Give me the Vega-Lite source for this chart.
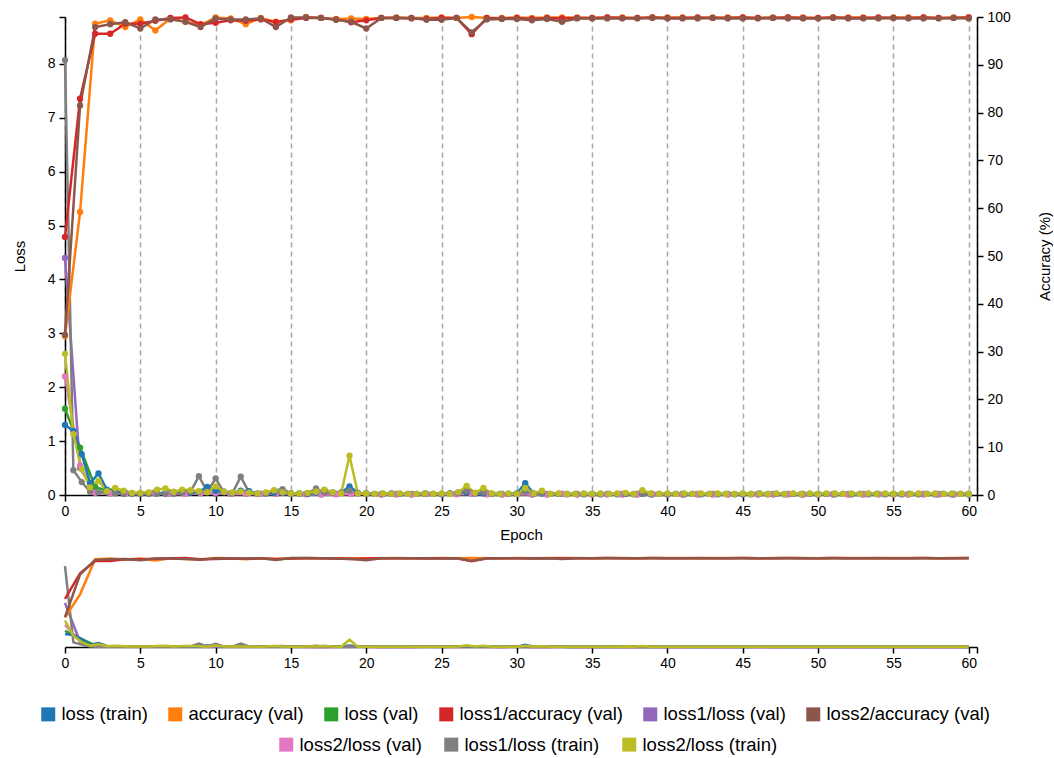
{
  "$schema": "https://vega.github.io/schema/vega-lite/v6.json",
  "padding": {"left": 12, "top": 10, "right": 0, "bottom": 0},
  "config": {
    "font": "Liberation Sans",
    "view": {"stroke": null},
    "axis": {
      "labelFont": "Liberation Sans", "labelFontSize": 14, "labelColor": "#000",
      "titleFont": "Liberation Sans", "titleFontSize": 15, "titleFontWeight": "normal", "titleColor": "#000",
      "domainColor": "#000", "tickColor": "#000", "domainWidth": 1.5, "tickWidth": 1.5, "tickSize": 6,
      "grid": false, "labelFlush": false, "labelOverlap": false
    }
  },
  "datasets": {
    "log": [
      {"epoch":0,"accuracy (val)":33.2,"loss (val)":1.6,"loss1/accuracy (val)":54,"loss1/loss (val)":4.4,"loss2/accuracy (val)":33.5,"loss2/loss (val)":2.2},
      {"epoch":1,"accuracy (val)":59.2,"loss (val)":0.88,"loss1/accuracy (val)":82.9,"loss1/loss (val)":0.5,"loss2/accuracy (val)":81.5,"loss2/loss (val)":0.55},
      {"epoch":2,"accuracy (val)":98.6,"loss (val)":0.15,"loss1/accuracy (val)":96.5,"loss1/loss (val)":0.05,"loss2/accuracy (val)":97.9,"loss2/loss (val)":0.04},
      {"epoch":3,"accuracy (val)":99.3,"loss (val)":0.06,"loss1/accuracy (val)":96.5,"loss1/loss (val)":0.03,"loss2/accuracy (val)":98.5,"loss2/loss (val)":0.03},
      {"epoch":4,"accuracy (val)":97.9,"loss (val)":0.04,"loss1/accuracy (val)":98.6,"loss1/loss (val)":0.03,"loss2/accuracy (val)":98.9,"loss2/loss (val)":0.02},
      {"epoch":5,"accuracy (val)":99.5,"loss (val)":0.03,"loss1/accuracy (val)":98.6,"loss1/loss (val)":0.02,"loss2/accuracy (val)":97.6,"loss2/loss (val)":0.02},
      {"epoch":6,"accuracy (val)":97.2,"loss (val)":0.04,"loss1/accuracy (val)":99.2,"loss1/loss (val)":0.03,"loss2/accuracy (val)":99.5,"loss2/loss (val)":0.02},
      {"epoch":7,"accuracy (val)":99.7,"loss (val)":0.03,"loss1/accuracy (val)":99.8,"loss1/loss (val)":0.02,"loss2/accuracy (val)":99.5,"loss2/loss (val)":0.02},
      {"epoch":8,"accuracy (val)":99.0,"loss (val)":0.04,"loss1/accuracy (val)":99.9,"loss1/loss (val)":0.02,"loss2/accuracy (val)":99.0,"loss2/loss (val)":0.02},
      {"epoch":9,"accuracy (val)":98.3,"loss (val)":0.05,"loss1/accuracy (val)":98.5,"loss1/loss (val)":0.04,"loss2/accuracy (val)":97.9,"loss2/loss (val)":0.03},
      {"epoch":10,"accuracy (val)":99.9,"loss (val)":0.03,"loss1/accuracy (val)":98.8,"loss1/loss (val)":0.03,"loss2/accuracy (val)":99.7,"loss2/loss (val)":0.05},
      {"epoch":11,"accuracy (val)":99.7,"loss (val)":0.03,"loss1/accuracy (val)":99.3,"loss1/loss (val)":0.02,"loss2/accuracy (val)":99.5,"loss2/loss (val)":0.02},
      {"epoch":12,"accuracy (val)":98.5,"loss (val)":0.03,"loss1/accuracy (val)":99.2,"loss1/loss (val)":0.02,"loss2/accuracy (val)":99.5,"loss2/loss (val)":0.02},
      {"epoch":13,"accuracy (val)":99.8,"loss (val)":0.02,"loss1/accuracy (val)":99.5,"loss1/loss (val)":0.02,"loss2/accuracy (val)":99.7,"loss2/loss (val)":0.02},
      {"epoch":14,"accuracy (val)":99.0,"loss (val)":0.03,"loss1/accuracy (val)":98.9,"loss1/loss (val)":0.02,"loss2/accuracy (val)":97.9,"loss2/loss (val)":0.02},
      {"epoch":15,"accuracy (val)":99.3,"loss (val)":0.02,"loss1/accuracy (val)":99.5,"loss1/loss (val)":0.02,"loss2/accuracy (val)":99.9,"loss2/loss (val)":0.02},
      {"epoch":16,"accuracy (val)":100,"loss (val)":0.02,"loss1/accuracy (val)":99.8,"loss1/loss (val)":0.02,"loss2/accuracy (val)":99.9,"loss2/loss (val)":0.01},
      {"epoch":17,"accuracy (val)":99.8,"loss (val)":0.02,"loss1/accuracy (val)":99.8,"loss1/loss (val)":0.01,"loss2/accuracy (val)":99.8,"loss2/loss (val)":0.01},
      {"epoch":18,"accuracy (val)":99.6,"loss (val)":0.02,"loss1/accuracy (val)":99.5,"loss1/loss (val)":0.02,"loss2/accuracy (val)":99.4,"loss2/loss (val)":0.01},
      {"epoch":19,"accuracy (val)":99.7,"loss (val)":0.03,"loss1/accuracy (val)":98.9,"loss1/loss (val)":0.02,"loss2/accuracy (val)":99.0,"loss2/loss (val)":0.02},
      {"epoch":20,"accuracy (val)":99.6,"loss (val)":0.03,"loss1/accuracy (val)":99.3,"loss1/loss (val)":0.03,"loss2/accuracy (val)":97.6,"loss2/loss (val)":0.02},
      {"epoch":21,"accuracy (val)":99.8,"loss (val)":0.02,"loss1/accuracy (val)":99.8,"loss1/loss (val)":0.01,"loss2/accuracy (val)":99.8,"loss2/loss (val)":0.01},
      {"epoch":22,"accuracy (val)":99.9,"loss (val)":0.02,"loss1/accuracy (val)":99.8,"loss1/loss (val)":0.01,"loss2/accuracy (val)":99.8,"loss2/loss (val)":0.02},
      {"epoch":23,"accuracy (val)":99.8,"loss (val)":0.02,"loss1/accuracy (val)":99.7,"loss1/loss (val)":0.01,"loss2/accuracy (val)":99.8,"loss2/loss (val)":0.01},
      {"epoch":24,"accuracy (val)":99.8,"loss (val)":0.02,"loss1/accuracy (val)":99.6,"loss1/loss (val)":0.02,"loss2/accuracy (val)":99.4,"loss2/loss (val)":0.02},
      {"epoch":25,"accuracy (val)":99.9,"loss (val)":0.02,"loss1/accuracy (val)":99.8,"loss1/loss (val)":0.01,"loss2/accuracy (val)":99.4,"loss2/loss (val)":0.02},
      {"epoch":26,"accuracy (val)":99.8,"loss (val)":0.02,"loss1/accuracy (val)":99.8,"loss1/loss (val)":0.02,"loss2/accuracy (val)":99.8,"loss2/loss (val)":0.01},
      {"epoch":27,"accuracy (val)":100,"loss (val)":0.03,"loss1/accuracy (val)":96.4,"loss1/loss (val)":0.04,"loss2/accuracy (val)":96.8,"loss2/loss (val)":0.02},
      {"epoch":28,"accuracy (val)":99.8,"loss (val)":0.02,"loss1/accuracy (val)":99.8,"loss1/loss (val)":0.02,"loss2/accuracy (val)":99.5,"loss2/loss (val)":0.01},
      {"epoch":29,"accuracy (val)":99.8,"loss (val)":0.02,"loss1/accuracy (val)":99.7,"loss1/loss (val)":0.01,"loss2/accuracy (val)":99.6,"loss2/loss (val)":0.01},
      {"epoch":30,"accuracy (val)":99.9,"loss (val)":0.02,"loss1/accuracy (val)":99.8,"loss1/loss (val)":0.02,"loss2/accuracy (val)":99.6,"loss2/loss (val)":0.02},
      {"epoch":31,"accuracy (val)":99.8,"loss (val)":0.02,"loss1/accuracy (val)":99.6,"loss1/loss (val)":0.01,"loss2/accuracy (val)":99.3,"loss2/loss (val)":0.01},
      {"epoch":32,"accuracy (val)":99.9,"loss (val)":0.02,"loss1/accuracy (val)":99.8,"loss1/loss (val)":0.01,"loss2/accuracy (val)":99.6,"loss2/loss (val)":0.01},
      {"epoch":33,"accuracy (val)":99.9,"loss (val)":0.02,"loss1/accuracy (val)":99.7,"loss1/loss (val)":0.02,"loss2/accuracy (val)":99.0,"loss2/loss (val)":0.02},
      {"epoch":34,"accuracy (val)":99.9,"loss (val)":0.02,"loss1/accuracy (val)":99.8,"loss1/loss (val)":0.01,"loss2/accuracy (val)":99.7,"loss2/loss (val)":0.01},
      {"epoch":35,"accuracy (val)":99.8,"loss (val)":0.02,"loss1/accuracy (val)":99.8,"loss1/loss (val)":0.01,"loss2/accuracy (val)":99.7,"loss2/loss (val)":0.01},
      {"epoch":36,"accuracy (val)":99.9,"loss (val)":0.02,"loss1/accuracy (val)":99.9,"loss1/loss (val)":0.01,"loss2/accuracy (val)":99.7,"loss2/loss (val)":0.02},
      {"epoch":37,"accuracy (val)":99.9,"loss (val)":0.02,"loss1/accuracy (val)":99.8,"loss1/loss (val)":0.01,"loss2/accuracy (val)":99.7,"loss2/loss (val)":0.01},
      {"epoch":38,"accuracy (val)":99.8,"loss (val)":0.02,"loss1/accuracy (val)":99.8,"loss1/loss (val)":0.01,"loss2/accuracy (val)":99.7,"loss2/loss (val)":0.01},
      {"epoch":39,"accuracy (val)":99.9,"loss (val)":0.02,"loss1/accuracy (val)":99.9,"loss1/loss (val)":0.01,"loss2/accuracy (val)":99.8,"loss2/loss (val)":0.02},
      {"epoch":40,"accuracy (val)":99.9,"loss (val)":0.02,"loss1/accuracy (val)":99.8,"loss1/loss (val)":0.01,"loss2/accuracy (val)":99.7,"loss2/loss (val)":0.01},
      {"epoch":41,"accuracy (val)":99.9,"loss (val)":0.02,"loss1/accuracy (val)":99.8,"loss1/loss (val)":0.01,"loss2/accuracy (val)":99.7,"loss2/loss (val)":0.01},
      {"epoch":42,"accuracy (val)":99.8,"loss (val)":0.02,"loss1/accuracy (val)":99.9,"loss1/loss (val)":0.01,"loss2/accuracy (val)":99.7,"loss2/loss (val)":0.02},
      {"epoch":43,"accuracy (val)":99.9,"loss (val)":0.02,"loss1/accuracy (val)":99.8,"loss1/loss (val)":0.01,"loss2/accuracy (val)":99.8,"loss2/loss (val)":0.01},
      {"epoch":44,"accuracy (val)":99.9,"loss (val)":0.02,"loss1/accuracy (val)":99.8,"loss1/loss (val)":0.01,"loss2/accuracy (val)":99.7,"loss2/loss (val)":0.01},
      {"epoch":45,"accuracy (val)":99.9,"loss (val)":0.02,"loss1/accuracy (val)":99.9,"loss1/loss (val)":0.01,"loss2/accuracy (val)":99.7,"loss2/loss (val)":0.02},
      {"epoch":46,"accuracy (val)":99.8,"loss (val)":0.02,"loss1/accuracy (val)":99.8,"loss1/loss (val)":0.01,"loss2/accuracy (val)":99.7,"loss2/loss (val)":0.01},
      {"epoch":47,"accuracy (val)":99.9,"loss (val)":0.02,"loss1/accuracy (val)":99.8,"loss1/loss (val)":0.01,"loss2/accuracy (val)":99.8,"loss2/loss (val)":0.01},
      {"epoch":48,"accuracy (val)":99.9,"loss (val)":0.02,"loss1/accuracy (val)":99.9,"loss1/loss (val)":0.01,"loss2/accuracy (val)":99.7,"loss2/loss (val)":0.02},
      {"epoch":49,"accuracy (val)":99.9,"loss (val)":0.02,"loss1/accuracy (val)":99.8,"loss1/loss (val)":0.01,"loss2/accuracy (val)":99.7,"loss2/loss (val)":0.01},
      {"epoch":50,"accuracy (val)":99.8,"loss (val)":0.02,"loss1/accuracy (val)":99.8,"loss1/loss (val)":0.01,"loss2/accuracy (val)":99.7,"loss2/loss (val)":0.01},
      {"epoch":51,"accuracy (val)":99.9,"loss (val)":0.02,"loss1/accuracy (val)":99.9,"loss1/loss (val)":0.01,"loss2/accuracy (val)":99.8,"loss2/loss (val)":0.02},
      {"epoch":52,"accuracy (val)":99.9,"loss (val)":0.02,"loss1/accuracy (val)":99.8,"loss1/loss (val)":0.01,"loss2/accuracy (val)":99.7,"loss2/loss (val)":0.01},
      {"epoch":53,"accuracy (val)":99.9,"loss (val)":0.02,"loss1/accuracy (val)":99.8,"loss1/loss (val)":0.01,"loss2/accuracy (val)":99.7,"loss2/loss (val)":0.01},
      {"epoch":54,"accuracy (val)":99.8,"loss (val)":0.02,"loss1/accuracy (val)":99.9,"loss1/loss (val)":0.01,"loss2/accuracy (val)":99.7,"loss2/loss (val)":0.02},
      {"epoch":55,"accuracy (val)":99.9,"loss (val)":0.02,"loss1/accuracy (val)":99.8,"loss1/loss (val)":0.01,"loss2/accuracy (val)":99.8,"loss2/loss (val)":0.01},
      {"epoch":56,"accuracy (val)":99.9,"loss (val)":0.02,"loss1/accuracy (val)":99.8,"loss1/loss (val)":0.01,"loss2/accuracy (val)":99.7,"loss2/loss (val)":0.01},
      {"epoch":57,"accuracy (val)":99.9,"loss (val)":0.02,"loss1/accuracy (val)":99.9,"loss1/loss (val)":0.01,"loss2/accuracy (val)":99.7,"loss2/loss (val)":0.02},
      {"epoch":58,"accuracy (val)":99.8,"loss (val)":0.02,"loss1/accuracy (val)":99.8,"loss1/loss (val)":0.01,"loss2/accuracy (val)":99.7,"loss2/loss (val)":0.01},
      {"epoch":59,"accuracy (val)":99.9,"loss (val)":0.02,"loss1/accuracy (val)":99.8,"loss1/loss (val)":0.01,"loss2/accuracy (val)":99.8,"loss2/loss (val)":0.01},
      {"epoch":60,"accuracy (val)":99.9,"loss (val)":0.02,"loss1/accuracy (val)":99.9,"loss1/loss (val)":0.01,"loss2/accuracy (val)":99.7,"loss2/loss (val)":0.02},
      {"epoch":0,"loss (train)":1.3,"loss1/loss (train)":8.07,"loss2/loss (train)":2.62},
      {"epoch":0.556,"loss (train)":1.19,"loss1/loss (train)":0.46,"loss2/loss (train)":1.13},
      {"epoch":1.111,"loss (train)":0.76,"loss1/loss (train)":0.24,"loss2/loss (train)":0.48},
      {"epoch":1.667,"loss (train)":0.22,"loss1/loss (train)":0.06,"loss2/loss (train)":0.14},
      {"epoch":2.222,"loss (train)":0.4,"loss1/loss (train)":0.05,"loss2/loss (train)":0.26},
      {"epoch":2.778,"loss (train)":0.1,"loss1/loss (train)":0.05,"loss2/loss (train)":0.07},
      {"epoch":3.333,"loss (train)":0.06,"loss1/loss (train)":0.03,"loss2/loss (train)":0.13},
      {"epoch":3.889,"loss (train)":0.05,"loss1/loss (train)":0.02,"loss2/loss (train)":0.08},
      {"epoch":4.444,"loss (train)":0.03,"loss1/loss (train)":0.02,"loss2/loss (train)":0.04},
      {"epoch":5,"loss (train)":0.03,"loss1/loss (train)":0.02,"loss2/loss (train)":0.04},
      {"epoch":5.556,"loss (train)":0.04,"loss1/loss (train)":0.02,"loss2/loss (train)":0.05},
      {"epoch":6.111,"loss (train)":0.03,"loss1/loss (train)":0.03,"loss2/loss (train)":0.1},
      {"epoch":6.667,"loss (train)":0.04,"loss1/loss (train)":0.02,"loss2/loss (train)":0.12},
      {"epoch":7.222,"loss (train)":0.03,"loss1/loss (train)":0.03,"loss2/loss (train)":0.06},
      {"epoch":7.778,"loss (train)":0.05,"loss1/loss (train)":0.04,"loss2/loss (train)":0.1},
      {"epoch":8.333,"loss (train)":0.04,"loss1/loss (train)":0.06,"loss2/loss (train)":0.09},
      {"epoch":8.889,"loss (train)":0.06,"loss1/loss (train)":0.35,"loss2/loss (train)":0.07},
      {"epoch":9.444,"loss (train)":0.15,"loss1/loss (train)":0.06,"loss2/loss (train)":0.05},
      {"epoch":10,"loss (train)":0.08,"loss1/loss (train)":0.31,"loss2/loss (train)":0.16},
      {"epoch":10.556,"loss (train)":0.06,"loss1/loss (train)":0.05,"loss2/loss (train)":0.06},
      {"epoch":11.111,"loss (train)":0.04,"loss1/loss (train)":0.03,"loss2/loss (train)":0.05},
      {"epoch":11.667,"loss (train)":0.08,"loss1/loss (train)":0.34,"loss2/loss (train)":0.06},
      {"epoch":12.222,"loss (train)":0.07,"loss1/loss (train)":0.05,"loss2/loss (train)":0.04},
      {"epoch":12.778,"loss (train)":0.03,"loss1/loss (train)":0.02,"loss2/loss (train)":0.03},
      {"epoch":13.333,"loss (train)":0.03,"loss1/loss (train)":0.03,"loss2/loss (train)":0.05},
      {"epoch":13.889,"loss (train)":0.04,"loss1/loss (train)":0.08,"loss2/loss (train)":0.09},
      {"epoch":14.444,"loss (train)":0.04,"loss1/loss (train)":0.11,"loss2/loss (train)":0.05},
      {"epoch":15,"loss (train)":0.03,"loss1/loss (train)":0.03,"loss2/loss (train)":0.03},
      {"epoch":15.556,"loss (train)":0.03,"loss1/loss (train)":0.02,"loss2/loss (train)":0.03},
      {"epoch":16.111,"loss (train)":0.02,"loss1/loss (train)":0.03,"loss2/loss (train)":0.04},
      {"epoch":16.667,"loss (train)":0.04,"loss1/loss (train)":0.12,"loss2/loss (train)":0.06},
      {"epoch":17.222,"loss (train)":0.09,"loss1/loss (train)":0.05,"loss2/loss (train)":0.1},
      {"epoch":17.778,"loss (train)":0.05,"loss1/loss (train)":0.04,"loss2/loss (train)":0.05},
      {"epoch":18.333,"loss (train)":0.04,"loss1/loss (train)":0.05,"loss2/loss (train)":0.03},
      {"epoch":18.889,"loss (train)":0.16,"loss1/loss (train)":0.08,"loss2/loss (train)":0.73},
      {"epoch":19.444,"loss (train)":0.04,"loss1/loss (train)":0.03,"loss2/loss (train)":0.03},
      {"epoch":20,"loss (train)":0.03,"loss1/loss (train)":0.02,"loss2/loss (train)":0.03},
      {"epoch":20.556,"loss (train)":0.02,"loss1/loss (train)":0.02,"loss2/loss (train)":0.02},
      {"epoch":21.111,"loss (train)":0.02,"loss1/loss (train)":0.02,"loss2/loss (train)":0.03},
      {"epoch":21.667,"loss (train)":0.03,"loss1/loss (train)":0.02,"loss2/loss (train)":0.02},
      {"epoch":22.222,"loss (train)":0.02,"loss1/loss (train)":0.02,"loss2/loss (train)":0.03},
      {"epoch":22.778,"loss (train)":0.02,"loss1/loss (train)":0.02,"loss2/loss (train)":0.02},
      {"epoch":23.333,"loss (train)":0.02,"loss1/loss (train)":0.02,"loss2/loss (train)":0.02},
      {"epoch":23.889,"loss (train)":0.03,"loss1/loss (train)":0.02,"loss2/loss (train)":0.03},
      {"epoch":24.444,"loss (train)":0.02,"loss1/loss (train)":0.02,"loss2/loss (train)":0.02},
      {"epoch":25,"loss (train)":0.02,"loss1/loss (train)":0.02,"loss2/loss (train)":0.03},
      {"epoch":25.556,"loss (train)":0.03,"loss1/loss (train)":0.03,"loss2/loss (train)":0.02},
      {"epoch":26.111,"loss (train)":0.04,"loss1/loss (train)":0.05,"loss2/loss (train)":0.05},
      {"epoch":26.667,"loss (train)":0.05,"loss1/loss (train)":0.08,"loss2/loss (train)":0.17},
      {"epoch":27.222,"loss (train)":0.03,"loss1/loss (train)":0.04,"loss2/loss (train)":0.04},
      {"epoch":27.778,"loss (train)":0.03,"loss1/loss (train)":0.05,"loss2/loss (train)":0.13},
      {"epoch":28.333,"loss (train)":0.02,"loss1/loss (train)":0.02,"loss2/loss (train)":0.03},
      {"epoch":28.889,"loss (train)":0.02,"loss1/loss (train)":0.02,"loss2/loss (train)":0.02},
      {"epoch":29.444,"loss (train)":0.02,"loss1/loss (train)":0.02,"loss2/loss (train)":0.03},
      {"epoch":30,"loss (train)":0.03,"loss1/loss (train)":0.02,"loss2/loss (train)":0.02},
      {"epoch":30.556,"loss (train)":0.22,"loss1/loss (train)":0.06,"loss2/loss (train)":0.13},
      {"epoch":31.111,"loss (train)":0.03,"loss1/loss (train)":0.02,"loss2/loss (train)":0.03},
      {"epoch":31.667,"loss (train)":0.03,"loss1/loss (train)":0.03,"loss2/loss (train)":0.08},
      {"epoch":32.222,"loss (train)":0.02,"loss1/loss (train)":0.02,"loss2/loss (train)":0.02},
      {"epoch":32.778,"loss (train)":0.02,"loss1/loss (train)":0.02,"loss2/loss (train)":0.03},
      {"epoch":33.333,"loss (train)":0.02,"loss1/loss (train)":0.01,"loss2/loss (train)":0.02},
      {"epoch":33.889,"loss (train)":0.02,"loss1/loss (train)":0.02,"loss2/loss (train)":0.02},
      {"epoch":34.444,"loss (train)":0.02,"loss1/loss (train)":0.01,"loss2/loss (train)":0.03},
      {"epoch":35,"loss (train)":0.02,"loss1/loss (train)":0.02,"loss2/loss (train)":0.02},
      {"epoch":35.556,"loss (train)":0.02,"loss1/loss (train)":0.01,"loss2/loss (train)":0.03},
      {"epoch":36.111,"loss (train)":0.02,"loss1/loss (train)":0.02,"loss2/loss (train)":0.02},
      {"epoch":36.667,"loss (train)":0.02,"loss1/loss (train)":0.01,"loss2/loss (train)":0.03},
      {"epoch":37.222,"loss (train)":0.02,"loss1/loss (train)":0.02,"loss2/loss (train)":0.04},
      {"epoch":37.778,"loss (train)":0.02,"loss1/loss (train)":0.01,"loss2/loss (train)":0.02},
      {"epoch":38.333,"loss (train)":0.02,"loss1/loss (train)":0.02,"loss2/loss (train)":0.09},
      {"epoch":38.889,"loss (train)":0.02,"loss1/loss (train)":0.01,"loss2/loss (train)":0.03},
      {"epoch":39.444,"loss (train)":0.02,"loss1/loss (train)":0.02,"loss2/loss (train)":0.02},
      {"epoch":40,"loss (train)":0.02,"loss1/loss (train)":0.01,"loss2/loss (train)":0.03},
      {"epoch":40.556,"loss (train)":0.02,"loss1/loss (train)":0.02,"loss2/loss (train)":0.02},
      {"epoch":41.111,"loss (train)":0.02,"loss1/loss (train)":0.01,"loss2/loss (train)":0.03},
      {"epoch":41.667,"loss (train)":0.02,"loss1/loss (train)":0.02,"loss2/loss (train)":0.02},
      {"epoch":42.222,"loss (train)":0.02,"loss1/loss (train)":0.01,"loss2/loss (train)":0.03},
      {"epoch":42.778,"loss (train)":0.02,"loss1/loss (train)":0.02,"loss2/loss (train)":0.02},
      {"epoch":43.333,"loss (train)":0.02,"loss1/loss (train)":0.01,"loss2/loss (train)":0.03},
      {"epoch":43.889,"loss (train)":0.02,"loss1/loss (train)":0.02,"loss2/loss (train)":0.02},
      {"epoch":44.444,"loss (train)":0.02,"loss1/loss (train)":0.01,"loss2/loss (train)":0.02},
      {"epoch":45,"loss (train)":0.02,"loss1/loss (train)":0.02,"loss2/loss (train)":0.03},
      {"epoch":45.556,"loss (train)":0.02,"loss1/loss (train)":0.01,"loss2/loss (train)":0.02},
      {"epoch":46.111,"loss (train)":0.03,"loss1/loss (train)":0.02,"loss2/loss (train)":0.03},
      {"epoch":46.667,"loss (train)":0.02,"loss1/loss (train)":0.01,"loss2/loss (train)":0.02},
      {"epoch":47.222,"loss (train)":0.02,"loss1/loss (train)":0.02,"loss2/loss (train)":0.03},
      {"epoch":47.778,"loss (train)":0.02,"loss1/loss (train)":0.01,"loss2/loss (train)":0.02},
      {"epoch":48.333,"loss (train)":0.02,"loss1/loss (train)":0.02,"loss2/loss (train)":0.03},
      {"epoch":48.889,"loss (train)":0.02,"loss1/loss (train)":0.01,"loss2/loss (train)":0.02},
      {"epoch":49.444,"loss (train)":0.02,"loss1/loss (train)":0.02,"loss2/loss (train)":0.03},
      {"epoch":50,"loss (train)":0.02,"loss1/loss (train)":0.01,"loss2/loss (train)":0.02},
      {"epoch":50.556,"loss (train)":0.02,"loss1/loss (train)":0.02,"loss2/loss (train)":0.03},
      {"epoch":51.111,"loss (train)":0.02,"loss1/loss (train)":0.01,"loss2/loss (train)":0.03},
      {"epoch":51.667,"loss (train)":0.02,"loss1/loss (train)":0.02,"loss2/loss (train)":0.02},
      {"epoch":52.222,"loss (train)":0.02,"loss1/loss (train)":0.01,"loss2/loss (train)":0.03},
      {"epoch":52.778,"loss (train)":0.02,"loss1/loss (train)":0.02,"loss2/loss (train)":0.02},
      {"epoch":53.333,"loss (train)":0.02,"loss1/loss (train)":0.01,"loss2/loss (train)":0.03},
      {"epoch":53.889,"loss (train)":0.02,"loss1/loss (train)":0.02,"loss2/loss (train)":0.02},
      {"epoch":54.444,"loss (train)":0.02,"loss1/loss (train)":0.01,"loss2/loss (train)":0.03},
      {"epoch":55,"loss (train)":0.02,"loss1/loss (train)":0.02,"loss2/loss (train)":0.02},
      {"epoch":55.556,"loss (train)":0.02,"loss1/loss (train)":0.01,"loss2/loss (train)":0.03},
      {"epoch":56.111,"loss (train)":0.02,"loss1/loss (train)":0.02,"loss2/loss (train)":0.02},
      {"epoch":56.667,"loss (train)":0.02,"loss1/loss (train)":0.01,"loss2/loss (train)":0.03},
      {"epoch":57.222,"loss (train)":0.02,"loss1/loss (train)":0.02,"loss2/loss (train)":0.02},
      {"epoch":57.778,"loss (train)":0.02,"loss1/loss (train)":0.01,"loss2/loss (train)":0.03},
      {"epoch":58.333,"loss (train)":0.02,"loss1/loss (train)":0.02,"loss2/loss (train)":0.02},
      {"epoch":58.889,"loss (train)":0.02,"loss1/loss (train)":0.01,"loss2/loss (train)":0.03},
      {"epoch":59.444,"loss (train)":0.02,"loss1/loss (train)":0.02,"loss2/loss (train)":0.02},
      {"epoch":60,"loss (train)":0.02,"loss1/loss (train)":0.01,"loss2/loss (train)":0.02}
    ]
  },
  "data": {"name": "log"},
  "transform": [
    {"fold": ["accuracy (val)", "loss (val)", "loss1/accuracy (val)", "loss1/loss (val)", "loss2/accuracy (val)", "loss2/loss (val)", "loss (train)", "loss1/loss (train)", "loss2/loss (train)"], "as": ["key", "value"]},
    {"filter": "isValid(datum.value)"}
  ],
  "spacing": 11,
  "vconcat": [
    {
      "width": 912,
      "height": 478,
      "encoding": {
        "x": {
          "field": "epoch", "type": "quantitative",
          "scale": {"domain": [0, 60.55], "nice": false, "zero": false},
          "axis": {
            "values": [0, 5, 10, 15, 20, 25, 30, 35, 40, 45, 50, 55, 60, 60.55],
            "labelExpr": "datum.value > 60.1 ? '' : datum.label",
            "grid": true, "gridColor": "#a8a8a8", "gridDash": [5, 4], "gridWidth": 1.5,
            "title": "Epoch", "labelPadding": 3, "titlePadding": 9
          }
        }
      },
      "layer": [
        {
          "transform": [{"filter": {"field": "key", "oneOf": ["loss (train)", "loss (val)", "loss1/loss (val)", "loss2/loss (val)", "loss1/loss (train)", "loss2/loss (train)"]}}],
          "encoding": {
            "y": {
              "field": "value", "type": "quantitative",
              "scale": {"domain": [0, 8.87], "nice": false, "zero": false},
              "axis": {
                "title": "Loss", "orient": "left",
                "values": [0, 1, 2, 3, 4, 5, 6, 7, 8, 8.87],
                "labelExpr": "datum.value > 8.5 ? '' : datum.label",
                "labelPadding": 4, "titlePadding": 20
              }
            }
          },
          "layer": [
            {
              "mark": {"type": "line", "strokeWidth": 2.5},
              "encoding": {
                "stroke": {
                  "field": "key", "type": "nominal",
                  "scale": {
                    "domain": ["loss2/loss (train)", "loss1/loss (train)", "loss2/loss (val)", "loss2/accuracy (val)", "loss1/loss (val)", "loss1/accuracy (val)", "loss (val)", "accuracy (val)", "loss (train)"],
                    "range": ["#bcbd22", "#7f7f7f", "#e377c2", "#8c564b", "#9467bd", "#d62728", "#2ca02c", "#ff7f0e", "#1f77b4"]
                  },
                  "legend": {
                    "values": ["loss2/loss (val)", "loss1/loss (train)", "loss2/loss (train)"],
                    "orient": "none", "legendX": 212, "legendY": 718, "direction": "horizontal", "columns": 3,
                    "title": null, "symbolType": "square", "symbolSize": 36, "symbolStrokeWidth": 8,
                    "labelFont": "Liberation Sans", "labelFontSize": 18.5, "labelColor": "#000", "labelOffset": 4,
                    "columnPadding": 10, "labelLimit": 400, "padding": 0
                  }
                }
              }
            },
            {
              "mark": {"type": "point", "filled": true, "size": 40, "opacity": 1},
              "encoding": {
                "fill": {
                  "field": "key", "type": "nominal",
                  "scale": {
                    "domain": ["loss (train)", "accuracy (val)", "loss (val)", "loss1/accuracy (val)", "loss1/loss (val)", "loss2/accuracy (val)", "loss2/loss (val)", "loss1/loss (train)", "loss2/loss (train)"],
                    "range": ["#1f77b4", "#ff7f0e", "#2ca02c", "#d62728", "#9467bd", "#8c564b", "#e377c2", "#7f7f7f", "#bcbd22"]
                  },
                  "legend": {
                    "values": ["loss (train)", "accuracy (val)", "loss (val)", "loss1/accuracy (val)", "loss1/loss (val)", "loss2/accuracy (val)"],
                    "orient": "none", "legendX": -26, "legendY": 688, "direction": "horizontal", "columns": 6,
                    "title": null, "symbolType": "square", "symbolSize": 196, "symbolStrokeWidth": 0,
                    "labelFont": "Liberation Sans", "labelFontSize": 18.5, "labelColor": "#000", "labelOffset": 4,
                    "columnPadding": 18, "labelLimit": 400, "padding": 0
                  }
                }
              }
            }
          ]
        },
        {
          "transform": [{"filter": {"field": "key", "oneOf": ["accuracy (val)", "loss1/accuracy (val)", "loss2/accuracy (val)"]}}],
          "encoding": {
            "y": {
              "field": "value", "type": "quantitative",
              "scale": {"domain": [0, 100], "nice": false, "zero": false},
              "axis": {
                "title": "Accuracy (%)", "orient": "right",
                "values": [0, 10, 20, 30, 40, 50, 60, 70, 80, 90, 100],
                "labelPadding": 4, "titlePadding": 42, "titleAngle": 270
              }
            }
          },
          "layer": [
            {
              "mark": {"type": "line", "strokeWidth": 2.5},
              "encoding": {
                "stroke": {
                  "field": "key", "type": "nominal",
                  "scale": {
                    "domain": ["loss2/loss (train)", "loss1/loss (train)", "loss2/loss (val)", "loss2/accuracy (val)", "loss1/loss (val)", "loss1/accuracy (val)", "loss (val)", "accuracy (val)", "loss (train)"],
                    "range": ["#bcbd22", "#7f7f7f", "#e377c2", "#8c564b", "#9467bd", "#d62728", "#2ca02c", "#ff7f0e", "#1f77b4"]
                  },
                  "legend": {
                    "values": ["loss2/loss (val)", "loss1/loss (train)", "loss2/loss (train)"],
                    "orient": "none", "legendX": 212, "legendY": 718, "direction": "horizontal", "columns": 3,
                    "title": null, "symbolType": "square", "symbolSize": 36, "symbolStrokeWidth": 8,
                    "labelFont": "Liberation Sans", "labelFontSize": 18.5, "labelColor": "#000", "labelOffset": 4,
                    "columnPadding": 10, "labelLimit": 400, "padding": 0
                  }
                }
              }
            },
            {
              "mark": {"type": "point", "filled": true, "size": 40, "opacity": 1},
              "encoding": {
                "fill": {
                  "field": "key", "type": "nominal",
                  "scale": {
                    "domain": ["loss (train)", "accuracy (val)", "loss (val)", "loss1/accuracy (val)", "loss1/loss (val)", "loss2/accuracy (val)", "loss2/loss (val)", "loss1/loss (train)", "loss2/loss (train)"],
                    "range": ["#1f77b4", "#ff7f0e", "#2ca02c", "#d62728", "#9467bd", "#8c564b", "#e377c2", "#7f7f7f", "#bcbd22"]
                  },
                  "legend": {
                    "values": ["loss (train)", "accuracy (val)", "loss (val)", "loss1/accuracy (val)", "loss1/loss (val)", "loss2/accuracy (val)"],
                    "orient": "none", "legendX": -26, "legendY": 688, "direction": "horizontal", "columns": 6,
                    "title": null, "symbolType": "square", "symbolSize": 196, "symbolStrokeWidth": 0,
                    "labelFont": "Liberation Sans", "labelFontSize": 18.5, "labelColor": "#000", "labelOffset": 4,
                    "columnPadding": 18, "labelLimit": 400, "padding": 0
                  }
                }
              }
            }
          ]
        }
      ],
      "resolve": {"scale": {"y": "independent"}}
    },
    {
      "width": 912,
      "height": 89,
      "encoding": {
        "x": {
          "field": "epoch", "type": "quantitative",
          "scale": {"domain": [0, 60.55], "nice": false, "zero": false},
          "axis": {
            "values": [0, 5, 10, 15, 20, 25, 30, 35, 40, 45, 50, 55, 60, 60.55],
            "labelExpr": "datum.value > 60.1 ? '' : datum.label",
            "grid": false, "title": null, "labelPadding": 3
          }
        }
      },
      "layer": [
        {
          "transform": [{"filter": {"field": "key", "oneOf": ["loss (train)", "loss (val)", "loss1/loss (val)", "loss2/loss (val)", "loss1/loss (train)", "loss2/loss (train)"]}}],
          "mark": {"type": "line", "strokeWidth": 2.5},
          "encoding": {
            "y": {"field": "value", "type": "quantitative", "scale": {"domain": [0, 8.87], "nice": false, "zero": false}, "axis": null},
            "stroke": {
              "field": "key", "type": "nominal",
              "scale": {
                "domain": ["loss2/loss (train)", "loss1/loss (train)", "loss2/loss (val)", "loss2/accuracy (val)", "loss1/loss (val)", "loss1/accuracy (val)", "loss (val)", "accuracy (val)", "loss (train)"],
                "range": ["#bcbd22", "#7f7f7f", "#e377c2", "#8c564b", "#9467bd", "#d62728", "#2ca02c", "#ff7f0e", "#1f77b4"]
              },
              "legend": {
                "values": ["loss2/loss (val)", "loss1/loss (train)", "loss2/loss (train)"],
                "orient": "none", "legendX": 212, "legendY": 718, "direction": "horizontal", "columns": 3,
                "title": null, "symbolType": "square", "symbolSize": 36, "symbolStrokeWidth": 8,
                "labelFont": "Liberation Sans", "labelFontSize": 18.5, "labelColor": "#000", "labelOffset": 4,
                "columnPadding": 10, "labelLimit": 400, "padding": 0
              }
            }
          }
        },
        {
          "transform": [{"filter": {"field": "key", "oneOf": ["accuracy (val)", "loss1/accuracy (val)", "loss2/accuracy (val)"]}}],
          "mark": {"type": "line", "strokeWidth": 2.5},
          "encoding": {
            "y": {"field": "value", "type": "quantitative", "scale": {"domain": [0, 100], "nice": false, "zero": false}, "axis": null},
            "stroke": {
              "field": "key", "type": "nominal",
              "scale": {
                "domain": ["loss2/loss (train)", "loss1/loss (train)", "loss2/loss (val)", "loss2/accuracy (val)", "loss1/loss (val)", "loss1/accuracy (val)", "loss (val)", "accuracy (val)", "loss (train)"],
                "range": ["#bcbd22", "#7f7f7f", "#e377c2", "#8c564b", "#9467bd", "#d62728", "#2ca02c", "#ff7f0e", "#1f77b4"]
              },
              "legend": {
                "values": ["loss2/loss (val)", "loss1/loss (train)", "loss2/loss (train)"],
                "orient": "none", "legendX": 212, "legendY": 718, "direction": "horizontal", "columns": 3,
                "title": null, "symbolType": "square", "symbolSize": 36, "symbolStrokeWidth": 8,
                "labelFont": "Liberation Sans", "labelFontSize": 18.5, "labelColor": "#000", "labelOffset": 4,
                "columnPadding": 10, "labelLimit": 400, "padding": 0
              }
            }
          }
        }
      ],
      "resolve": {"scale": {"y": "independent"}}
    }
  ],
  "resolve": {"scale": {"stroke": "shared", "fill": "shared", "x": "shared"}}
}
